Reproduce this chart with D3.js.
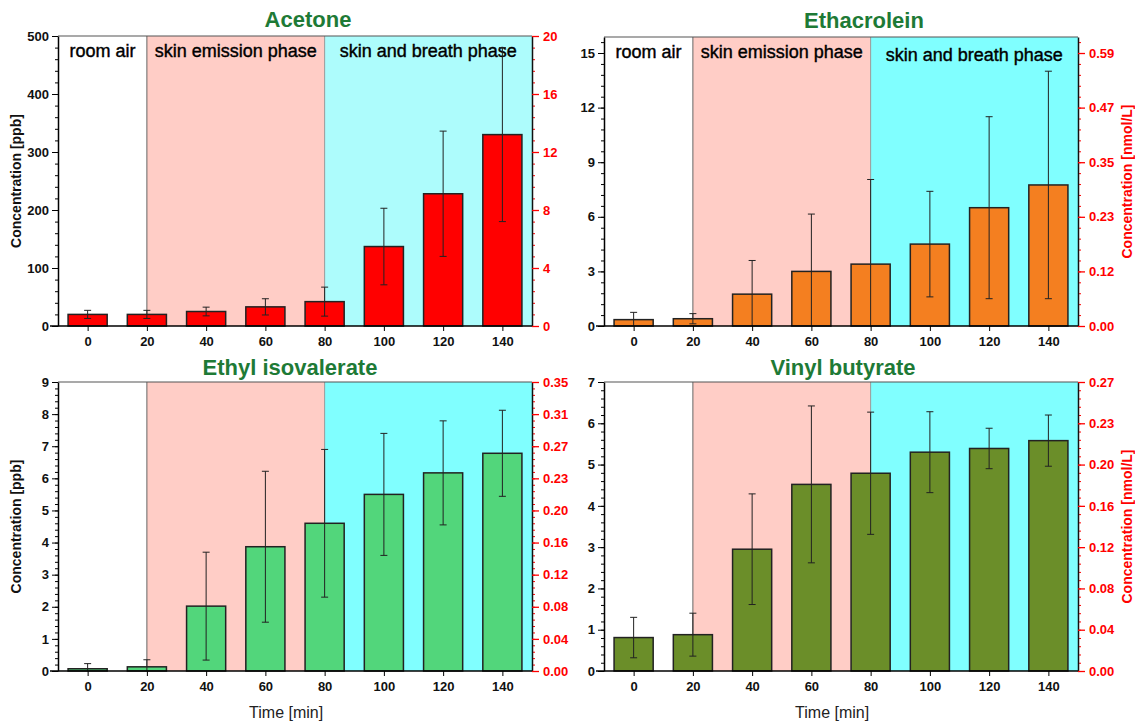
<!DOCTYPE html>
<html>
<head>
<meta charset="utf-8">
<script src="https://cdn.jsdelivr.net/npm/d3@7"></script>
<style>
  body { margin: 0; background: #fff; }
  svg { display: block; }
  text { font-family: "Liberation Sans", Arial, sans-serif; }
</style>
</head>
<body>
<svg id="chart" width="1135" height="721"></svg>
<script>
// time points (min)
var times = [0, 20, 40, 60, 80, 100, 120, 140];
var phaseNames = ["room air", "skin emission phase", "skin and breath phase"];

// mean concentration [ppb] and error (+/-)
var acetone = [20, 20, 25, 33, 42, 137, 228, 330];
var acetoneErr = [7, 7, 7.5, 14, 25, 66, 108, 150];
var ethacrolein = [0.35, 0.4, 1.75, 3.0, 3.4, 4.5, 6.5, 7.75];
var ethacroleinErr = [0.4, 0.28, 1.85, 3.15, 4.65, 2.9, 5.0, 6.25];
var ethylIso = [0.07, 0.13, 2.02, 3.87, 4.6, 5.5, 6.17, 6.78];
var ethylIsoErr = [0.16, 0.22, 1.68, 2.35, 2.3, 1.9, 1.62, 1.34];
var vinylBut = [0.81, 0.88, 2.95, 4.52, 4.79, 5.3, 5.39, 5.58];
var vinylButErr = [0.49, 0.52, 1.34, 1.9, 1.48, 0.98, 0.49, 0.62];

// right axis tick labels (nmol/L, or ppb/25 for acetone)
var acetoneRight = ["0", "4", "8", "12", "16", "20"];
var ethacroleinRight = ["0.00", "0.12", "0.23", "0.35", "0.47", "0.59"];
var ethylIsoRight = ["0.00", "0.04", "0.08", "0.12", "0.16", "0.20", "0.23", "0.27", "0.31", "0.35"];
var vinylButRight = ["0.00", "0.04", "0.08", "0.12", "0.16", "0.20", "0.23", "0.27"];

var svg = d3.select("#chart");

var panels = [
  { title: "Acetone", titleX: 308, titleY: 27, values: acetone, errs: acetoneErr,
    left: 58, right: 532, top: 36, bottom: 326, yMax: 500, major: 100, minor: 20,
    rightLabels: acetoneRight, color: "#ff0000", cyan: "#adfcfc",
    phases: true, leftLabel: true, rightLabel: false, xLabel: false },
  { title: "Ethacrolein", titleX: 864, titleY: 28, values: ethacrolein, errs: ethacroleinErr,
    left: 604, right: 1078, top: 37, bottom: 326, yMax: 15.88, major: 3, minor: 0.6,
    rightLabels: ethacroleinRight, color: "#f47f20", cyan: "#80ffff",
    phases: true, leftLabel: false, rightLabel: true, xLabel: false },
  { title: "Ethyl isovalerate", titleX: 290, titleY: 375, values: ethylIso, errs: ethylIsoErr,
    left: 58, right: 532, top: 382, bottom: 671, yMax: 9, major: 1, minor: 0.2,
    rightLabels: ethylIsoRight, color: "#52d67b", cyan: "#80ffff",
    phases: false, leftLabel: true, rightLabel: false, xLabel: true },
  { title: "Vinyl butyrate", titleX: 843, titleY: 375, values: vinylBut, errs: vinylButErr,
    left: 604, right: 1078, top: 382, bottom: 671, yMax: 7, major: 1, minor: 0.2,
    rightLabels: vinylButRight, color: "#6b8e29", cyan: "#80ffff",
    phases: false, leftLabel: false, rightLabel: true, xLabel: true }
];

panels.forEach(drawPanel);

function drawPanel(p) {
  var x = d3.scaleLinear().domain([-10, 150]).range([p.left, p.right]);
  var y = d3.scaleLinear().domain([0, p.yMax]).range([p.bottom, p.top]);
  var g = svg.append("g");

  // phase backgrounds
  g.append("rect").attr("x", x(20)).attr("y", p.top)
    .attr("width", x(80) - x(20)).attr("height", p.bottom - p.top).attr("fill", "#ffcdc6");
  g.append("rect").attr("x", x(80)).attr("y", p.top)
    .attr("width", x(150) - x(80)).attr("height", p.bottom - p.top).attr("fill", p.cyan);
  [20, 80].forEach(function (t) {
    g.append("line").attr("x1", x(t)).attr("x2", x(t)).attr("y1", p.top).attr("y2", p.bottom)
      .attr("stroke", t === 20 ? "#666" : "#999").attr("stroke-width", 1);
  });
  // top frame
  g.append("line").attr("x1", p.left).attr("x2", p.right).attr("y1", p.top).attr("y2", p.top)
    .attr("stroke", "#555").attr("stroke-width", 1.2);

  if (p.phases) {
    var regions = [[-10, 20], [20, 80], [80, 150]];
    phaseNames.forEach(function (name, i) {
      g.append("text").attr("x", (x(regions[i][0]) + x(regions[i][1])) / 2)
        .attr("y", p.top + 21 + (i === 2 && p.left > 300 ? 3 : 0))
        .attr("text-anchor", "middle").attr("font-family", "Lato, sans-serif")
        .attr("font-size", 18).attr("fill", "#000")
        .attr("stroke", "#000").attr("stroke-width", 0.4).text(name);
    });
  }

  // bars
  var half = 6.6;
  g.selectAll(".bar").data(p.values).enter().append("rect")
    .attr("x", function (d, i) { return x(times[i] - half); })
    .attr("y", function (d) { return y(d); })
    .attr("width", x(half) - x(-half))
    .attr("height", function (d) { return p.bottom - y(d); })
    .attr("fill", p.color).attr("stroke", "#222").attr("stroke-width", 1.5);

  // error bars
  p.values.forEach(function (v, i) {
    var cx = x(times[i]);
    var lo = y(Math.max(0, v - p.errs[i])), hi = y(v + p.errs[i]);
    g.append("line").attr("x1", cx).attr("x2", cx).attr("y1", lo).attr("y2", hi)
      .attr("stroke", "#222").attr("stroke-width", 1);
    [lo, hi].forEach(function (yy) {
      if (yy >= p.bottom - 0.5) return;
      g.append("line").attr("x1", cx - 3.5).attr("x2", cx + 3.5).attr("y1", yy).attr("y2", yy)
        .attr("stroke", "#222").attr("stroke-width", 1);
    });
  });

  // bottom axis
  var xAxis = g.append("g").attr("transform", "translate(0," + p.bottom + ")")
    .call(d3.axisBottom(x).tickValues(times).tickSize(5).tickPadding(6).tickFormat(d3.format("d")));
  xAxis.select(".domain").attr("d", "M" + (p.left - 8) + ",0H" + p.right).attr("stroke-width", 1.5);
  xAxis.selectAll("text").attr("font-size", 13).attr("font-weight", "bold").attr("fill", "#111");

  // left axis
  var majors = d3.range(0, p.yMax + 1e-6, p.major);
  var minors = d3.range(0, p.yMax + 1e-6, p.minor);
  var yAxisMinor = g.append("g").attr("transform", "translate(" + p.left + ",0)")
    .call(d3.axisLeft(y).tickValues(minors).tickSize(3).tickFormat(""));
  yAxisMinor.select(".domain").remove();
  var yAxis = g.append("g").attr("transform", "translate(" + p.left + ",0)")
    .call(d3.axisLeft(y).tickValues(majors).tickSize(6).tickPadding(3).tickSizeOuter(0)
      .tickFormat(d3.format("~g")));
  yAxis.select(".domain").attr("stroke-width", 1.5);
  yAxis.selectAll("text").attr("font-size", 13).attr("font-weight", "bold").attr("fill", "#111");

  // right axis (red labels)
  var rMinor = g.append("g").attr("transform", "translate(" + p.right + ",0)")
    .call(d3.axisRight(y).tickValues(minors).tickSize(3).tickFormat(""));
  rMinor.select(".domain").remove();
  rMinor.selectAll("line").attr("stroke", "#ff0000");
  var rAxis = g.append("g").attr("transform", "translate(" + p.right + ",0)")
    .call(d3.axisRight(y).tickValues(majors).tickSize(7).tickPadding(4).tickSizeOuter(0)
      .tickFormat(function (d, i) { return p.rightLabels[i]; }));
  rAxis.select(".domain").attr("stroke", "#111").attr("stroke-width", 1.5);
  rAxis.selectAll(".tick line").attr("stroke", "#ff0000").attr("stroke-width", 1.3);
  rAxis.selectAll("text").attr("font-size", 13).attr("font-weight", "bold").attr("fill", "#ff0000");

  // title
  g.append("text").attr("x", p.titleX).attr("y", p.titleY).attr("text-anchor", "middle")
    .attr("font-family", "Lato, sans-serif").attr("font-weight", "bold").attr("font-size", 22)
    .attr("fill", "#1e7a36").text(p.title);

  var midY = (p.top + p.bottom) / 2;
  if (p.leftLabel) {
    g.append("text").attr("transform", "translate(21," + midY + ") rotate(-90)")
      .attr("text-anchor", "middle").attr("font-size", 14).attr("font-weight", "bold")
      .attr("fill", "#111").text("Concentration [ppb]");
  }
  if (p.rightLabel) {
    g.append("text").attr("transform", "translate(1132," + midY + ") rotate(-90)")
      .attr("text-anchor", "middle").attr("font-size", 14).attr("font-weight", "bold")
      .attr("fill", "#ff0000").text("Concentration [nmol/L]");
  }
  if (p.xLabel) {
    g.append("text").attr("x", x(67)).attr("y", 718).attr("text-anchor", "middle")
      .attr("font-size", 16).attr("fill", "#222").text("Time [min]");
  }
}
</script>
</body>
</html>
